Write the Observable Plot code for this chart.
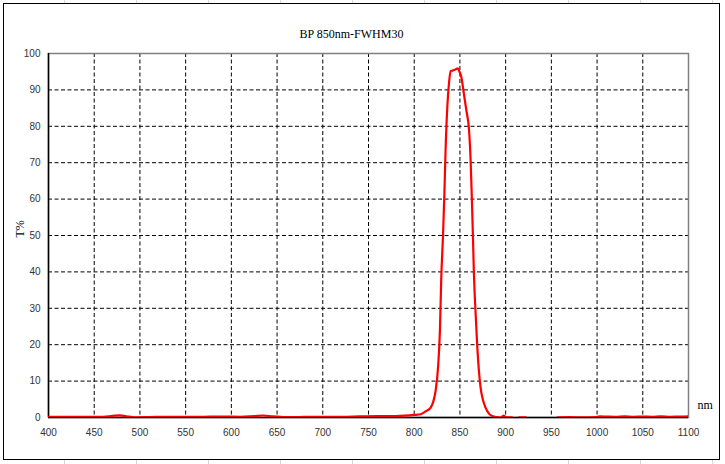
<!DOCTYPE html>
<html>
<head>
<meta charset="utf-8">
<script src="https://cdn.jsdelivr.net/npm/d3@7"></script>
<script src="https://cdn.jsdelivr.net/npm/@observablehq/plot@0.6"></script>
<style>
  html, body { margin: 0; padding: 0; background: #fff; }
  body {
    width: 725px; height: 464px; overflow: hidden; position: relative;
    background-image:
      repeating-linear-gradient(to right, transparent 0, transparent 64px, #d8d8d8 64px, #d8d8d8 65px, transparent 65px, transparent 72px);
  }
  #frame {
    position: absolute; left: 3px; top: 3px; width: 715px; height: 455px;
    border: 1px solid #000; background: #fff;
  }
  #chart { position: absolute; left: 0; top: 0; }
</style>
</head>
<body>
<div id="frame"></div>
<div id="chart"></div>
<script>
const title = "BP 850nm-FWHM30";
const yLabel = "T%";
const xUnit = "nm";
const xTicks = [400, 450, 500, 550, 600, 650, 700, 750, 800, 850, 900, 950, 1000, 1050, 1100];
const yTicks = [0, 10, 20, 30, 40, 50, 60, 70, 80, 90, 100];

const wavelength = [400, 420, 440, 460, 470, 478, 485, 495, 510, 530, 550, 570, 590, 610, 625, 635, 645, 660, 680, 700, 720, 740, 760, 780, 790, 800, 807, 812, 818, 821, 823.4, 826.3, 828.1, 829.6, 831.5, 833, 834.3, 836.2, 838, 839.8, 842, 845, 847.8, 849.5, 851.5, 854, 857, 860, 861.7, 863.1, 864.2, 865.3, 867.2, 869.7, 872.6, 875, 878, 882, 885.4, 890, 894.5, 898, 900, 902, 907, 910, 915, 922, 926, 940, 953, 957, 970, 985, 998, 1003, 1010, 1020, 1030, 1040, 1050, 1060, 1070, 1080, 1090, 1100];
const transmission = [0.15, 0.2, 0.15, 0.2, 0.45, 0.6, 0.35, 0.05, 0.1, 0.2, 0.15, 0.2, 0.25, 0.2, 0.4, 0.55, 0.3, 0.1, 0.15, 0.2, 0.2, 0.3, 0.4, 0.4, 0.5, 0.7, 0.9, 1.6, 2.7, 4.5, 7.3, 14.6, 23.8, 38.5, 50, 61.5, 73.4, 85.3, 91.7, 95.2, 95.3, 95.6, 95.9, 95, 93.6, 89.5, 84.4, 78.9, 70.6, 59.6, 50, 39.4, 28.4, 16.5, 8.2, 5, 2.7, 1, 0.4, 0.1, 0, 0.5, 0.1, 0.05, 0.05, -1, 0.05, 0.05, -1, -1, -1, 0.05, 0.1, 0.05, 0.1, 0.3, 0.25, 0.2, 0.3, 0.2, 0.25, 0.2, 0.3, 0.2, 0.25, 0.3];

const data = wavelength.map((w, i) => ({w, t: transmission[i]}));

const tickFont = "Liberation Sans, Arial, sans-serif";
const serifFont = "Liberation Serif, Times New Roman, serif";

const chart = Plot.plot({
  width: 725,
  height: 464,
  marginLeft: 48,
  marginRight: 37,
  marginTop: 53,
  marginBottom: 47,
  style: {background: "transparent", overflow: "visible"},
  x: {domain: [400, 1100]},
  y: {domain: [0, 100]},
  marks: [
    Plot.gridX(xTicks.slice(1, -1), {stroke: "#000", strokeOpacity: 1, strokeDasharray: "4,2.5", strokeWidth: 1}),
    Plot.gridY(yTicks.slice(1, -1), {stroke: "#000", strokeOpacity: 1, strokeDasharray: "4,2.5", strokeWidth: 1}),
    Plot.frame({stroke: "#808080", strokeWidth: 1.5}),
    Plot.ruleX([400], {stroke: "#000", strokeWidth: 1.5}),
    Plot.ruleY([0], {stroke: "#000", strokeWidth: 1.5}),
    Plot.line(data, {x: "w", y: "t", stroke: "#ff0000", strokeWidth: 2.2, curve: "monotone-x", clip: true}),
    Plot.axisX(xTicks, {tickSize: 0, tickPadding: 11, fontSize: 10, fontFamily: tickFont, fill: "#333", label: null, tickFormat: d => String(d)}),
    Plot.axisY(yTicks, {tickSize: 0, tickPadding: 8, fontSize: 10, fontFamily: tickFont, fill: "#333", label: null, tickFormat: d => String(d)}),
    Plot.text([yLabel], {frameAnchor: "left", dx: -28, dy: 2, rotate: -90, fontSize: 12, fontFamily: serifFont, fill: "#000"}),
    Plot.text([xUnit], {frameAnchor: "bottom-right", dx: 9, dy: -9, fontSize: 12, fontFamily: serifFont, fill: "#000", textAnchor: "start"}),
    Plot.text([title], {frameAnchor: "top", dx: -17, dy: -24, fontSize: 12, fontFamily: serifFont, fill: "#000"})
  ]
});
document.getElementById("chart").appendChild(chart);
</script>
</body>
</html>
